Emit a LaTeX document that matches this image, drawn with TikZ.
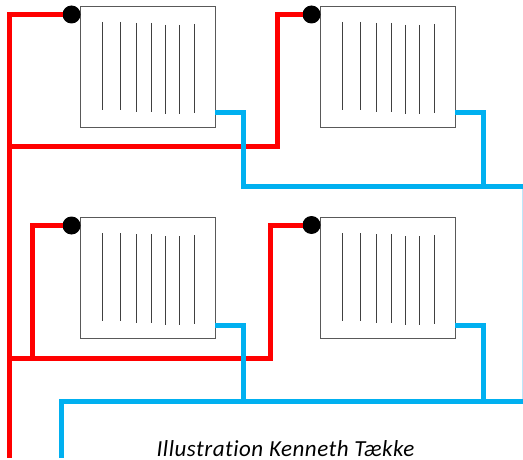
\documentclass[tikz,border=0pt]{standalone}
\usepackage{fontspec}
\setmainfont[Ligatures=NoCommon,Contextuals=NoAlternate]{Carlito}
\newfontface\capfont[ItalicFont=*,Ligatures=NoCommon,Contextuals=NoAlternate,LetterSpace=2.3,FakeSlant=0]{Carlito Italic}
\tikzset{
  radbox/.style={draw=black!65,line width=0.9pt,fill=white,minimum width=134.5pt,minimum height=121pt,inner sep=0pt,outer sep=0pt,anchor=north west},
  valve/.style={circle,fill=black,minimum size=18pt,inner sep=0pt,outer sep=0pt},
  fin/.style={draw=black!75,line width=0.8pt},
  hot/.style={draw={rgb,255:red,255;green,0;blue,0},line width=5pt,line cap=butt,line join=miter},
  cold/.style={draw={rgb,255:red,0;green,176;blue,240},line width=5pt,line cap=butt,line join=miter},
  edge/.style={draw={rgb,255:red,190;green,230;blue,250},line width=0.8pt},
}
\begin{document}
\begin{tikzpicture}[x=1pt,y=-1pt]
\useasboundingbox (0,0) rectangle (523,460);
\fill[white] (0,0) rectangle (523,460);
% coordinates
\coordinate (mainTop) at (9.5,14.5);
\coordinate (mainEnd) at (9.5,458);
\coordinate (j1) at (9.5,146.5);
\coordinate (c1) at (277,146.5);
\coordinate (c2) at (277,14.5);
\coordinate (j2) at (9.5,358);
\coordinate (c3) at (32,358);
\coordinate (c4) at (32,225.5);
\coordinate (c5) at (270.5,358);
\coordinate (c6) at (270.5,225);
\coordinate (b1a) at (243,113);
\coordinate (b1b) at (243,186.5);
\coordinate (b1c) at (523,186.5);
\coordinate (b2a) at (483,113);
\coordinate (b2b) at (483,186.5);
\coordinate (b3a) at (243,325);
\coordinate (b3b) at (243,401);
\coordinate (b4a) at (483,325);
\coordinate (b4b) at (483,401);
\coordinate (b5a) at (523,401);
\coordinate (b5b) at (61,401);
\coordinate (b5c) at (61,458);
\coordinate (e1) at (522.6,186.5);
\coordinate (e2) at (522.6,401);
% faint edge
\draw[edge] (e1) -- (e2);
% radiators
\node[radbox] (r1) at (80.5,6) {};
\node[radbox] (r2) at (320.5,6) {};
\node[radbox] (r3) at (80.5,217) {};
\node[radbox] (r4) at (320.5,217) {};
\foreach \r/\ox/\oy in {r1/80.5/6,r2/320.5/6,r3/80.5/217,r4/320.5/217}{
  \begin{scope}[shift={(\ox,\oy)}]
    \draw[fin] (21.5,16) -- (21.5,104);
    \draw[fin] (39.5,16) -- (39.5,104);
    \draw[fin] (55.5,17) -- (55.5,106);
    \draw[fin] (71,17) -- (71,106);
    \draw[fin] (84.5,19) -- (84.5,108);
    \draw[fin] (98.5,19) -- (98.5,108);
    \draw[fin] (114,18) -- (114,107);
  \end{scope}
}
% valves
\node[valve] (v1) at (71.5,14.5) {};
\node[valve] (v2) at (311.5,14.5) {};
\node[valve] (v3) at (71.5,225.5) {};
\node[valve] (v4) at (311.5,225) {};
% hot pipes
\draw[hot] (v1) -- (mainTop) -- (mainEnd);
\draw[hot] (j1) -- (c1) -- (c2) -- (v2);
\draw[hot] (j2) -- (c5) -- (c6) -- (v4);
\draw[hot] (c3) -- (c4) -- (v3);
% cold pipes
\draw[cold] (215,113) -- (b1a) -- (b1b) -- (b1c);
\draw[cold] (455,113) -- (b2a) -- (b2b);
\draw[cold] (b5a) -- (b5b) -- (b5c);
\draw[cold] (215,325) -- (b3a) -- (b3b);
\draw[cold] (455,325) -- (b4a) -- (b4b);
% caption
\node[font=\capfont\fontsize{23}{24}\selectfont,inner sep=0pt,anchor=base] (cap) at (285.5,456.5) {Illustration Kenneth Tække};
\end{tikzpicture}
\end{document}
